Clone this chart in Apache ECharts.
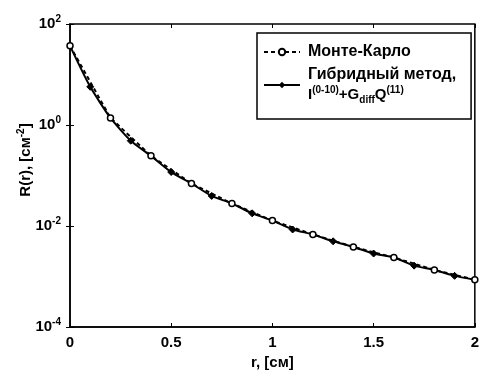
<!DOCTYPE html>
<html><head><meta charset="utf-8">
<script src="https://cdn.jsdelivr.net/npm/echarts@6/dist/echarts.min.js"></script>
<style>html,body{margin:0;padding:0;background:#fff}#c{width:482px;height:375px}</style>
</head><body><div id="c"></div>
<script>
// r, cm (step 0.1)
const rValues = [0,0.1,0.2,0.3,0.4,0.5,0.6,0.7,0.8,0.9,1.0,1.1,1.2,1.3,1.4,1.5,1.6,1.7,1.8,1.9,2.0];
// Hybrid method R(r), cm^-2
const hybridValues = [37,5.7,1.38,0.489,0.245,0.117,0.0695,0.0394,0.0279,0.0178,0.0128,0.00853,0.00682,0.00498,0.00385,0.00285,0.00238,0.00164,0.00135,0.00103,0.000863];
// Monte Carlo points (step 0.2)
const mcR = [0,0.2,0.4,0.6,0.8,1.0,1.2,1.4,1.6,1.8,2.0];
const mcValues = [37,1.38,0.245,0.0695,0.0279,0.0128,0.00682,0.00385,0.00238,0.00135,0.000863];
const xTicks = ['0','0.5','1','1.5','2'];
const seriesNames = ['Монте-Карло','Гибридный метод,'];

const FONT = 'Liberation Sans';
const chart = echarts.init(document.getElementById('c'), null, {renderer:'canvas'});
const tickMap = {0:xTicks[0],0.5:xTicks[1],1:xTicks[2],1.5:xTicks[3],2:xTicks[4]};
chart.setOption({
  animation:false,
  backgroundColor:'#fff',
  grid:{left:70,right:4,top:24,bottom:44,show:true,borderColor:'#000',borderWidth:1.5,backgroundColor:'transparent'},
  xAxis:[{
    type:'value',min:0,max:2,interval:0.5,
    axisLine:{show:true,lineStyle:{color:'#000',width:1.5}},
    axisTick:{show:true,inside:true,length:4,lineStyle:{color:'#000'}},
    splitLine:{show:false},
    axisLabel:{color:'#000',fontFamily:FONT,fontWeight:'bold',fontSize:15,margin:8,formatter:v=>tickMap[v]},
    name:'r, [см]',nameLocation:'middle',nameGap:28,
    nameTextStyle:{color:'#000',fontFamily:FONT,fontWeight:'bold',fontSize:15}
  },{
    type:'value',min:0,max:2,interval:0.5,position:'top',
    axisLine:{show:false},axisTick:{show:true,inside:true,length:4,lineStyle:{color:'#000'}},
    axisLabel:{show:false},splitLine:{show:false}
  }],
  yAxis:[{
    type:'log',logBase:10,min:1e-4,max:100,interval:2,
    axisLine:{show:true,lineStyle:{color:'#000',width:1.5}},
    axisTick:{show:true,inside:true,length:4,lineStyle:{color:'#000'}},
    minorTick:{show:false},
    splitLine:{show:false},
    axisLabel:{color:'#000',fontFamily:FONT,fontWeight:'bold',fontSize:15,margin:9,
      formatter:v=>'10{s|'+Math.round(Math.log10(v))+'}',
      rich:{s:{fontSize:10,fontWeight:'bold',fontFamily:FONT,verticalAlign:'top',padding:[0,0,10,0]}}}
  },{
    type:'log',logBase:10,min:1e-4,max:100,interval:2,position:'right',
    axisLine:{show:false},axisTick:{show:true,inside:true,length:4,lineStyle:{color:'#000'}},
    axisLabel:{show:false},splitLine:{show:false}
  }],
  legend:{
    left:257,top:33,orient:'vertical',
    backgroundColor:'#fff',borderColor:'#000',borderWidth:1.5,borderRadius:0,
    padding:[9,15,14,6],itemGap:3,itemWidth:36,itemHeight:8,
    data:seriesNames,
    textStyle:{color:'#000',fontFamily:FONT,fontWeight:'bold',fontSize:16,lineHeight:20,padding:[0,0,0,3],
      rich:{n:{fontFamily:FONT,fontWeight:'bold',fontSize:15,color:'#000',lineHeight:20},
            s:{fontFamily:FONT,fontWeight:'bold',fontSize:10,color:'#000',verticalAlign:'top',lineHeight:20,padding:[0,0,6,0]},
            b:{fontFamily:FONT,fontWeight:'bold',fontSize:10,color:'#000',verticalAlign:'bottom',lineHeight:20,padding:[6,0,0,0]}}},
    formatter:name=> name===seriesNames[1] ? name+'\n{n|I}{s|(0-10)}{n|+G}{b|diff}{n|Q}{s|(11)}' : name
  },
  graphic:[{
    type:'text',x:16,y:160,rotation:Math.PI/2,
    style:{text:'R(r), [см{s|-2}]',fill:'#000',font:'bold 15px "Liberation Sans"',align:'center',verticalAlign:'top',
      rich:{s:{fontSize:10,fontWeight:'bold',fontFamily:FONT,verticalAlign:'top',padding:[0,0,10,0]}}}
  }],
  series:[{
    name:seriesNames[0],type:'line',
    data:mcR.map((r,i)=>[r,mcValues[i]]),
    symbol:'circle',symbolSize:6,
    lineStyle:{color:'#000',width:2,type:[4,3]},
    itemStyle:{color:'#fff',borderColor:'#000',borderWidth:1.5},
    z:3
  },{
    name:seriesNames[1],type:'line',
    data:rValues.map((r,i)=>[r,hybridValues[i]]),
    symbol:'diamond',
    symbolSize:(v,p)=> (p.dataIndex%2===1 ? 7 : 0),
    smooth:0.2,
    lineStyle:{color:'#000',width:2},
    itemStyle:{color:'#000',borderColor:'#000'},
    z:2
  }]
});
</script></body></html>
